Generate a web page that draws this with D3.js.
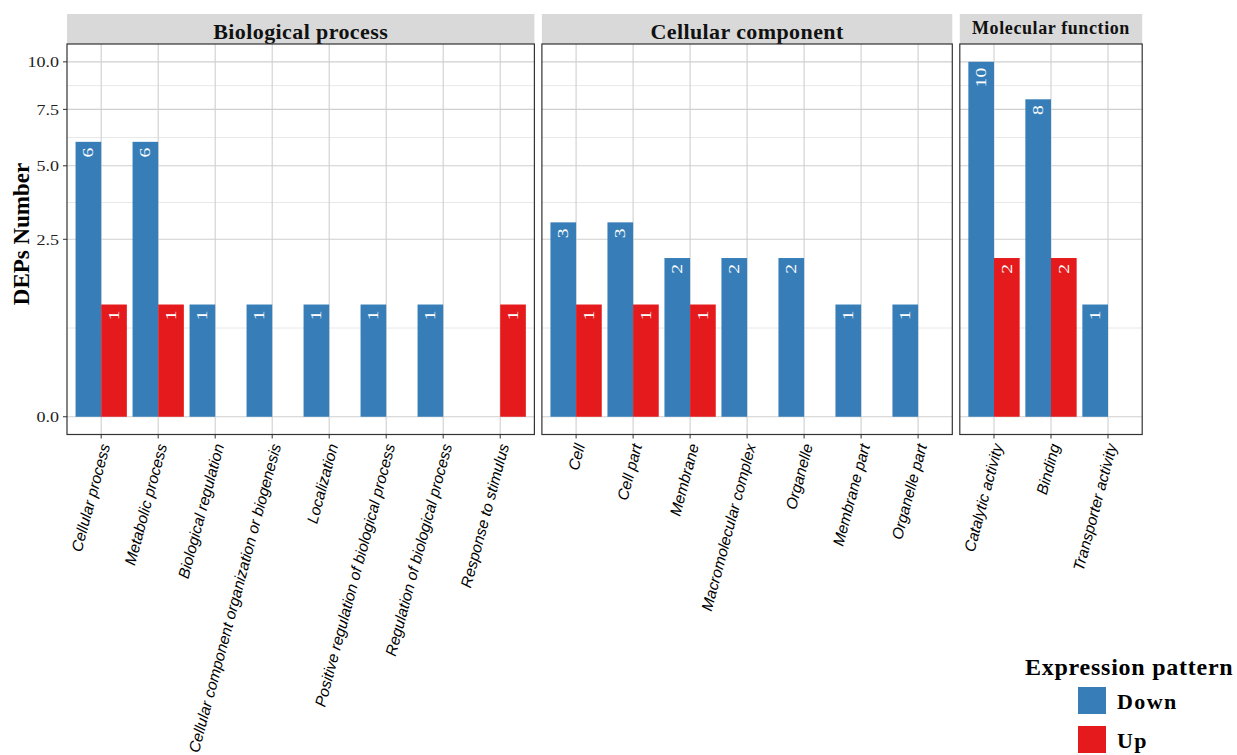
<!DOCTYPE html>
<html>
<head>
<meta charset="utf-8">
<script src="https://cdn.jsdelivr.net/npm/d3@7"></script>
<style>
  html, body { margin: 0; padding: 0; background: #fff; }
  svg { display: block; }
</style>
</head>
<body>
<svg id="chart" width="1237" height="755"></svg>
<script>
// GO categories per ontology, with counts of down- and up-regulated proteins
const bpCategories = ["Cellular process", "Metabolic process", "Biological regulation",
  "Cellular component organization or biogenesis", "Localization",
  "Positive regulation of biological process", "Regulation of biological process",
  "Response to stimulus"];
const bpDown = [6, 6, 1, 1, 1, 1, 1, null];
const bpUp   = [1, 1, null, null, null, null, null, 1];

const ccCategories = ["Cell", "Cell part", "Membrane", "Macromolecular complex",
  "Organelle", "Membrane part", "Organelle part"];
const ccDown = [3, 3, 2, 2, 2, 1, 1];
const ccUp   = [1, 1, 1, null, null, null, null];

const mfCategories = ["Catalytic activity", "Binding", "Transporter activity"];
const mfDown = [10, 8, 1];
const mfUp   = [2, 2, null];

const panelTitles = ["Biological process", "Cellular component", "Molecular function"];
const yTicks = [0, 2.5, 5, 7.5, 10];
const yTickLabels = ["0.0", "2.5", "5.0", "7.5", "10.0"];
const seriesNames = ["Down", "Up"];
const seriesColors = ["#377EB8", "#E41A1C"];

const panels = [
  { title: panelTitles[0], cats: bpCategories, down: bpDown, up: bpUp },
  { title: panelTitles[1], cats: ccCategories, down: ccDown, up: ccUp },
  { title: panelTitles[2], cats: mfCategories, down: mfDown, up: mfUp }
];

const svg = d3.select("#chart");
const SERIF = "'Liberation Serif', 'Times New Roman', serif";
const SANS = "'Liberation Sans', Arial, sans-serif";

// layout
const plotLeft = 67, panelGap = 7.5, unit = 57;
const stripTop = 14, stripBottom = 44, panelBottom = 434.5;

// sqrt-transformed count axis, shared by all panels
const y = d3.scaleSqrt().domain([-0.025, 11.03]).range([panelBottom, stripBottom]);
const minorY = d3.pairs(yTicks).map(([a, b]) => (y(a) + y(b)) / 2);

let cursor = plotLeft;
panels.forEach(p => {
  const w = (p.cats.length + 0.2) * unit;
  p.x0 = cursor; p.x1 = cursor + w;
  cursor += w + panelGap;
  p.x = d3.scaleBand().domain(p.cats).range([p.x0, p.x1]).paddingInner(0).paddingOuter(0.1);
});

// y axis ticks and labels
const yAxisG = svg.append("g");
yTicks.forEach((t, i) => {
  yAxisG.append("line").attr("x1", plotLeft - 4).attr("x2", plotLeft)
    .attr("y1", y(t)).attr("y2", y(t)).attr("stroke", "#333").attr("stroke-width", 1);
  yAxisG.append("text")
    .attr("transform", `translate(${plotLeft - 8},${y(t)}) scale(1.2,1)`)
    .attr("dy", "0.35em").attr("text-anchor", "end")
    .attr("font-family", SERIF).attr("font-size", 15).attr("fill", "#222")
    .text(yTickLabels[i]);
});

svg.append("text")
  .attr("transform", `translate(28.5,234) rotate(-90)`)
  .attr("text-anchor", "middle")
  .attr("font-family", SERIF).attr("font-weight", "bold").attr("font-size", 23)
  .attr("fill", "#000")
  .text("DEPs Number");

panels.forEach((p, pi) => {
  const g = svg.append("g");
  const bw = p.x.bandwidth();
  const sub = d3.scaleBand().domain(seriesNames).range([0.05 * bw, 0.95 * bw]).padding(0);

  // strip
  g.append("rect").attr("x", p.x0).attr("y", stripTop)
    .attr("width", p.x1 - p.x0).attr("height", stripBottom - stripTop).attr("fill", "#d9d9d9");
  const small = pi === 2;
  g.append("text")
    .attr("x", (p.x0 + p.x1) / 2).attr("y", small ? 34 : 38.5)
    .attr("text-anchor", "middle")
    .attr("font-family", SERIF).attr("font-weight", "bold")
    .attr("font-size", small ? 18 : 22).attr("fill", "#111")
    .attr("letter-spacing", small ? 0.6 : 0.4)
    .text(p.title);

  // grid
  minorY.forEach(v => g.append("line").attr("x1", p.x0).attr("x2", p.x1)
    .attr("y1", v).attr("y2", v).attr("stroke", "#e8e8e8").attr("stroke-width", 1));
  yTicks.forEach(t => g.append("line").attr("x1", p.x0).attr("x2", p.x1)
    .attr("y1", y(t)).attr("y2", y(t)).attr("stroke", "#cfcfcf").attr("stroke-width", 1.1));
  p.cats.forEach(c => {
    const cx = p.x(c) + bw / 2;
    g.append("line").attr("x1", cx).attr("x2", cx).attr("y1", stripBottom).attr("y2", panelBottom)
      .attr("stroke", "#cfcfcf").attr("stroke-width", 1.1);
  });

  // bars and value labels
  const rows = [];
  p.cats.forEach((c, i) => {
    if (p.down[i] != null) rows.push({ cat: c, s: 0, v: p.down[i] });
    if (p.up[i] != null) rows.push({ cat: c, s: 1, v: p.up[i] });
  });
  g.selectAll("rect.bar").data(rows).enter().append("rect")
    .attr("class", "bar")
    .attr("x", d => p.x(d.cat) + sub(seriesNames[d.s]))
    .attr("width", sub.bandwidth())
    .attr("y", d => y(d.v))
    .attr("height", d => y(0) - y(d.v))
    .attr("fill", d => seriesColors[d.s]);
  g.selectAll("text.val").data(rows).enter().append("text")
    .attr("class", "val")
    .attr("transform", d => `translate(${p.x(d.cat) + sub(seriesNames[d.s]) + sub.bandwidth() / 2},${y(d.v) + 6}) rotate(-90) scale(1.35,1)`)
    .attr("text-anchor", "end").attr("dy", "0.35em")
    .attr("font-family", SERIF).attr("font-size", 14.5).attr("fill", "#fff")
    .text(d => d.v);

  // panel border
  g.append("rect").attr("x", p.x0).attr("y", stripBottom)
    .attr("width", p.x1 - p.x0).attr("height", panelBottom - stripBottom)
    .attr("fill", "none").attr("stroke", "#333").attr("stroke-width", 1.2);

  // x ticks and rotated labels
  p.cats.forEach(c => {
    const cx = p.x(c) + bw / 2;
    g.append("line").attr("x1", cx).attr("x2", cx).attr("y1", panelBottom).attr("y2", panelBottom + 4)
      .attr("stroke", "#333").attr("stroke-width", 1);
    g.append("text")
      .attr("transform", `translate(${cx + 9},${panelBottom + 11}) rotate(-75)`)
      .attr("text-anchor", "end")
      .attr("font-family", SANS).attr("font-style", "italic").attr("font-size", 15.5)
      .attr("fill", "#000")
      .text(c);
  });
});

// legend
const lg = svg.append("g");
lg.append("text").attr("x", 1025).attr("y", 675)
  .attr("font-family", SERIF).attr("font-weight", "bold").attr("font-size", 24)
  .attr("letter-spacing", 0.75).attr("fill", "#000")
  .text("Expression pattern");
seriesNames.forEach((s, i) => {
  const top = 687 + i * 39;
  lg.append("rect").attr("x", 1078).attr("y", top).attr("width", 28).attr("height", 27)
    .attr("fill", seriesColors[i]);
  lg.append("text").attr("x", 1117).attr("y", top + 22)
    .attr("font-family", SERIF).attr("font-weight", "bold").attr("font-size", 22)
    .attr("letter-spacing", 1.4).attr("fill", "#000")
    .text(s);
});
</script>
</body>
</html>
